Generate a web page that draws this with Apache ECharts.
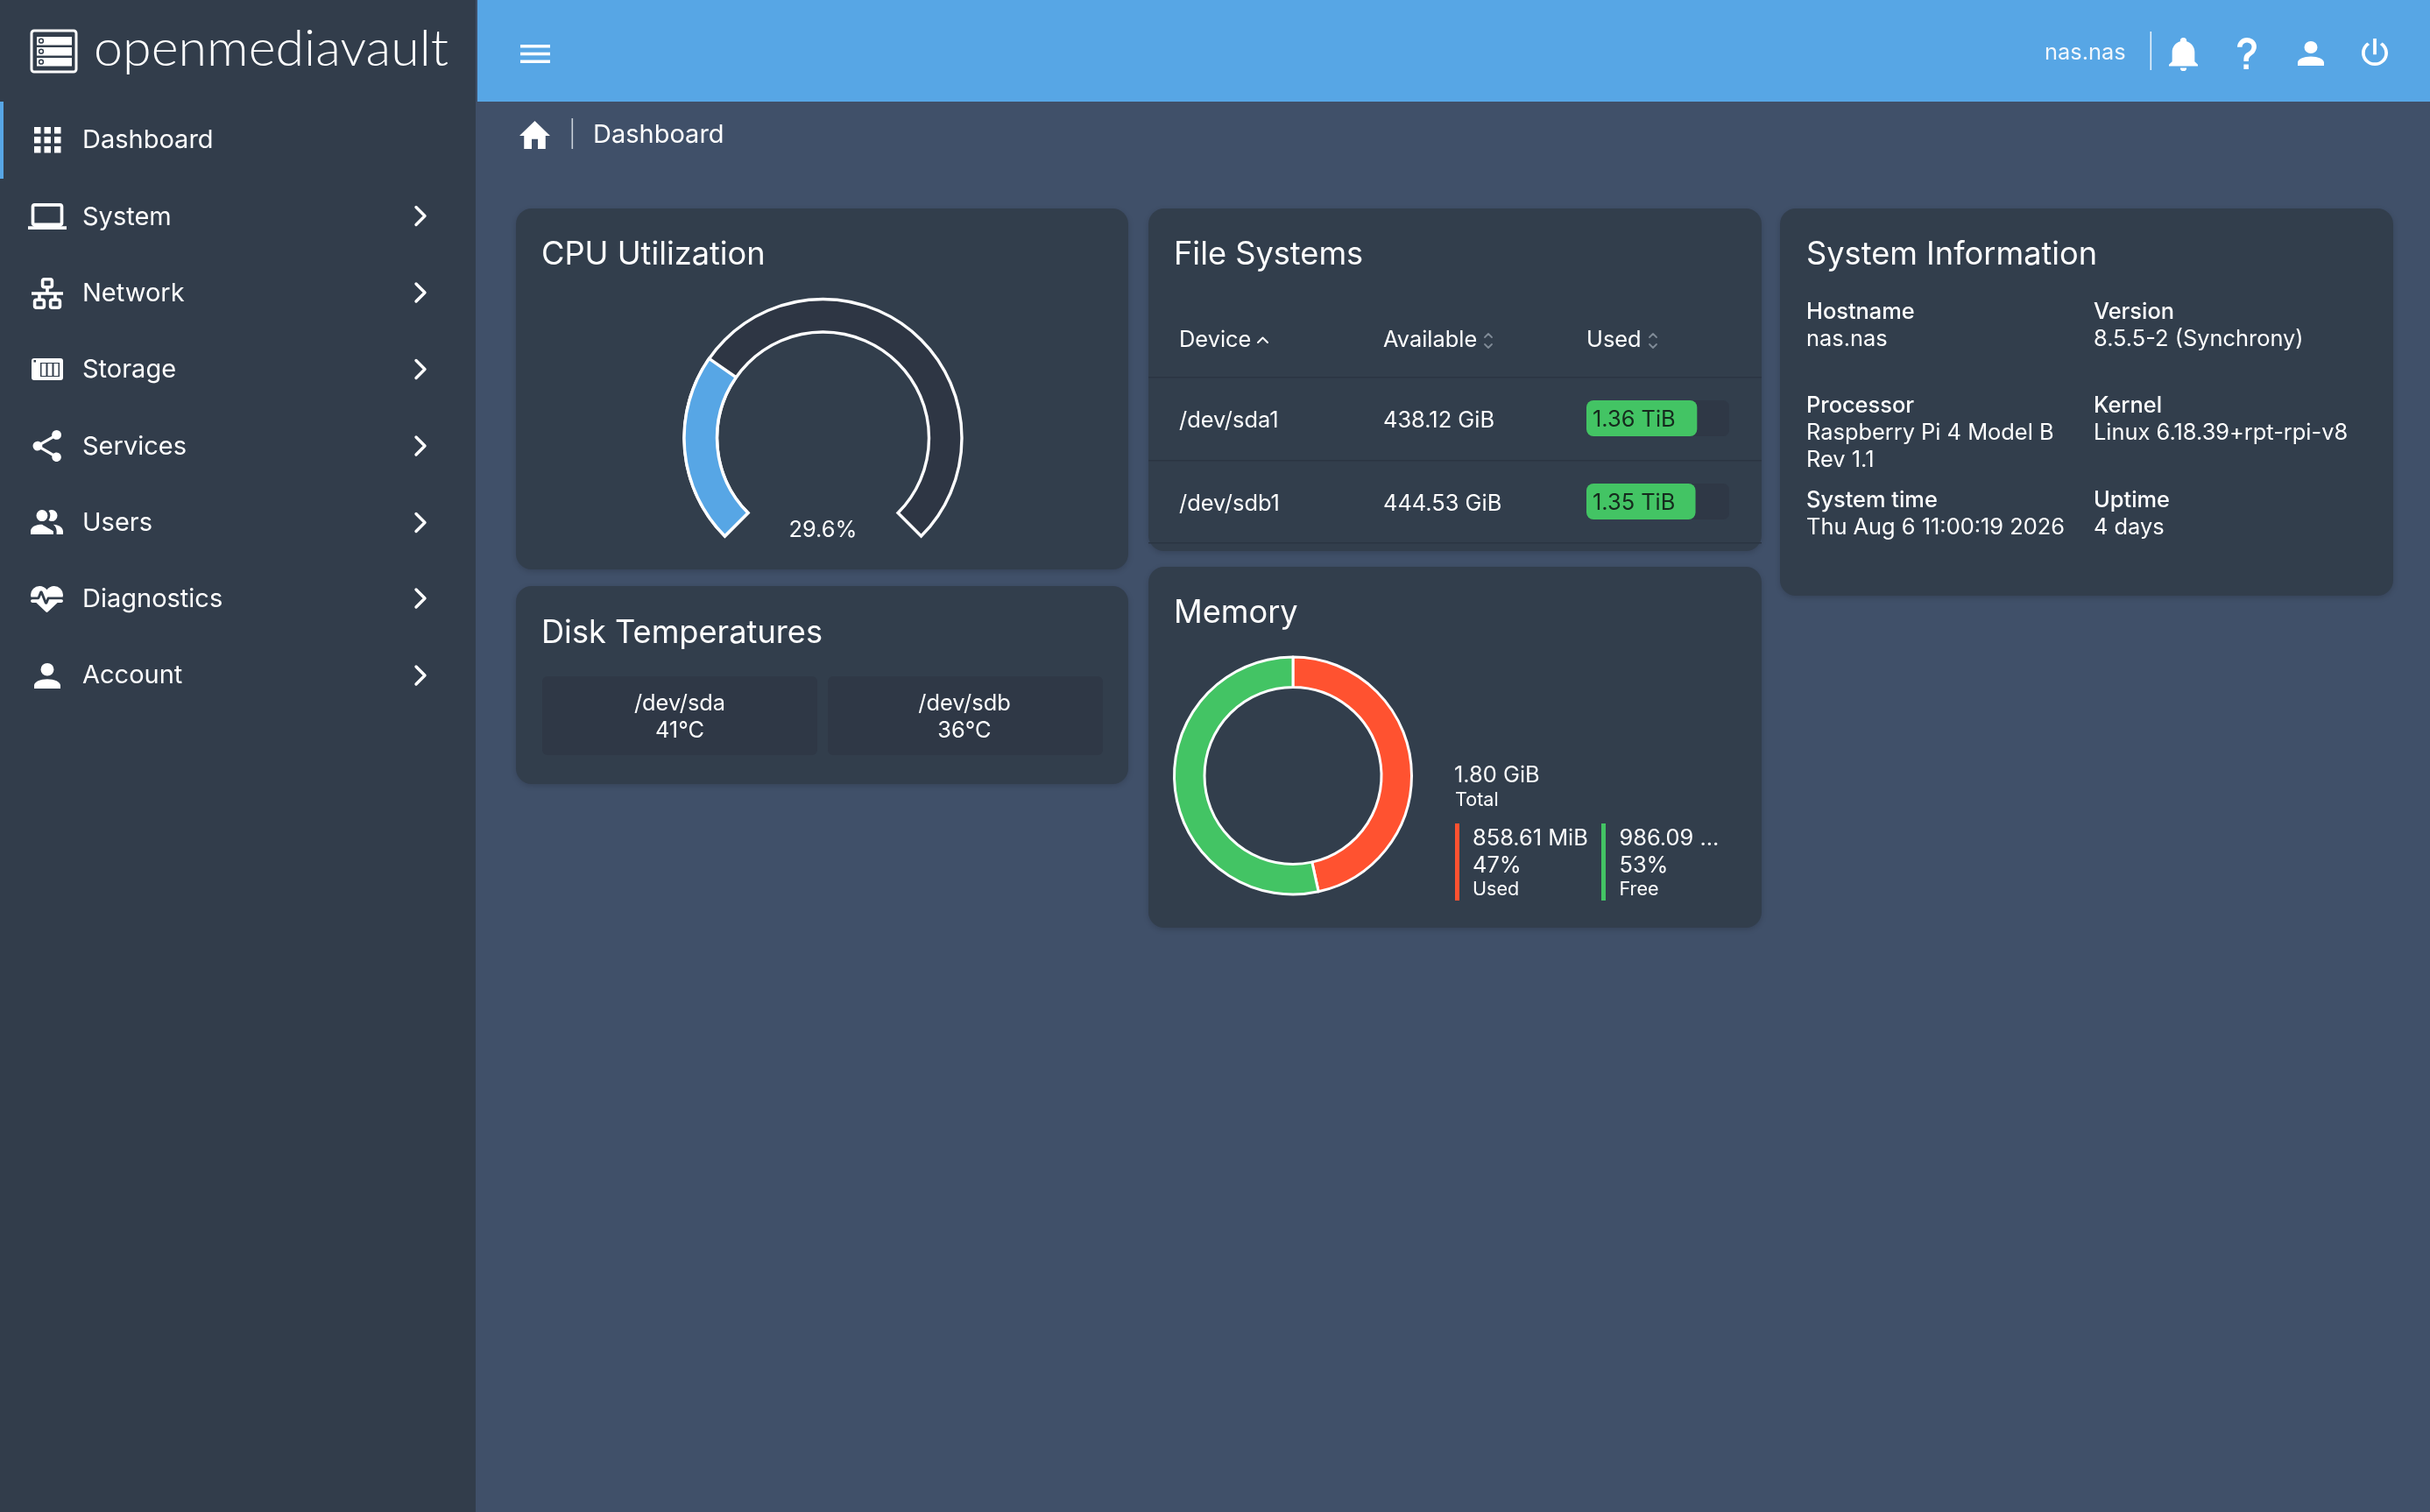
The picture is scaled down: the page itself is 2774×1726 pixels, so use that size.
<!DOCTYPE html>
<html><head><meta charset="utf-8">
<style>html,body{margin:0;padding:0;background:#405069;overflow:hidden}#c{width:2774px;height:1726px}</style>
<script src="https://cdn.jsdelivr.net/npm/echarts@6/dist/echarts.min.js"></script>
</head><body><div id="c"></div>
<script>
// ---- data ----
const navItems = ['Dashboard','System','Network','Storage','Services','Users','Diagnostics','Account'];
const cpuUtilization = 29.6;
const cpuMax = 100;
const fsDevices = ['/dev/sda1','/dev/sdb1'];
const fsAvailable = ['438.12 GiB','444.53 GiB'];
const fsUsedLabels = ['1.36 TiB','1.35 TiB'];
const fsUsedPercent = [77.5,76.4];
const fsHeaders = ['Device','Available','Used'];
const diskNames = ['/dev/sda','/dev/sdb'];
const diskTemps = ['41°C','36°C'];
const memoryNames = ['Used','Free'];
const memoryValues = [858.61,986.09];
const memoryValueLabels = ['858.61 MiB','986.09 ...'];
const memoryPercentLabels = ['47%','53%'];
const memoryTotal = '1.80 GiB';
const sysLabels = ['Hostname','Version','Processor','Kernel','System time','Uptime'];
const sysValues = ['nas.nas','8.5.5-2 (Synchrony)','Raspberry Pi 4 Model B\nRev 1.1','Linux 6.18.39+rpt-rpi-v8','Thu Aug 6 11:00:19 2026','4 days'];
const cardTitles = ['CPU Utilization','Disk Temperatures','File Systems','Memory','System Information'];

// ---- palette ----
const C = {bg:'#405069',side:'#323d4b',card:'#323e4c',well:'#2e3644',blue:'#57a6e5',line:'#2b3542',
  red:'#ff5230',green:'#43c464',white:'#ffffff',grey:'#808b97'};
const FONT='Inter';
const S=25.4;

function T(x,y,text,size,o){o=o||{};
  const al=o.align||'left';
  return {type:'text',x:al==='left'?x-1:x,y:y+2,z:o.z||5,silent:true,scaleX:o.scaleX||1,style:{text:text,fill:o.fill||C.white,
    font:(o.weight||400)+' '+size+'px '+(o.family||FONT),
    textAlign:al,textVerticalAlign:'middle',align:al,verticalAlign:'middle'}};
}
function R(x,y,w,h,fill,r,extra){
  return Object.assign({type:'rect',z:1,silent:true,shape:{x:x,y:y,width:w,height:h,r:r||0},style:{fill:fill}},extra||{});
}
function L(pts,stroke,w){return {type:'polyline',z:4,silent:true,shape:{points:pts},style:{stroke:stroke,lineWidth:w,fill:null,lineCap:'round',lineJoin:'round'}};}
function Card(x,y,w,h){const c=R(x,y,w,h,C.card,18);c.style.shadowBlur=6;c.style.shadowColor='rgba(0,0,0,0.16)';c.style.shadowOffsetY=2;return c;}

const el=[];
// frame
el.push(R(0,0,543,1726,C.side));
el.push(R(545,0,2229,116,C.blue));
el.push(R(0,116,4,88,C.blue,0,{z:2}));
// logo
el.push({type:'rect',z:3,silent:true,shape:{x:36,y:35,width:51,height:47,r:3},style:{fill:null,stroke:C.white,lineWidth:3}});
[42,54,66].forEach(function(y){
  el.push(R(42,y,40,9.5,C.white,0,{z:3}));
  el.push({type:'circle',z:4,silent:true,shape:{cx:47,cy:y+4.7,r:2.4},style:{fill:C.white,stroke:C.side,lineWidth:1.5}});
});
el.push(T(108,54,'openmediavault',58,{family:'Lato',weight:300,scaleX:1.02}));
// nav
const navY=[158,246.5,333.5,420.5,508.5,595.5,682,769.5];
const chevY=[159,246.5,334,421.5,509,596.5,683,771];
navItems.forEach(function(n,i){
  el.push(T(95,navY[i],n,29));
  if(i>0) el.push(L([[475,chevY[i]-10],[485,chevY[i]],[475,chevY[i]+10]],C.white,3.4));
});
// storage icon
el.push(R(36,409,36,25,C.white,3,{z:3}));
el.push(R(46,414,22,16,C.side,0,{z:4}));
[47.5,54.5,61.5].forEach(function(x){el.push(R(x,415,5,14,C.white,0,{z:5}));});
el.push(R(38.5,411,2.5,2.5,C.side,0,{z:5}));
// dashboard icon squares
[145,156,167].forEach(function(y){[39,50.5,62].forEach(function(x){el.push(R(x,y,7.5,7.5,C.white,0,{z:3}));});});
// header
el.push(T(2335,58,'nas.nas',S,{fill:'#f2f7fc'}));
el.push(R(2454.5,36,1.6,44,'#e8f2fb',0,{z:2}));
// breadcrumb
el.push(R(652.5,135,1.6,35,'#c9d0d9',0,{z:2}));
el.push(T(678,152,navItems[0],29));
// cards
const cards=[[589,238,699,412],[589,669,699,226],[1311,238,700,391],[1311,647,700,412],[2032,238,700,442]];
cards.forEach(function(c){el.push(Card(c[0],c[1],c[2],c[3]));});
const titlePos=[[619,289],[619,721.5],[1341,289],[1341,698],[2063,289]];
cardTitles.forEach(function(t,i){el.push(T(titlePos[i][0],titlePos[i][1],t,36.2));});
// disk tiles
const tileX=[[619,314],[945,314]];
diskNames.forEach(function(d,i){
  el.push(R(tileX[i][0],772,tileX[i][1],90,'#2f3846',6,{z:2}));
  const cx=i?1101:776;
  el.push(T(cx,801.5,d,S,{align:'center'}));
  el.push(T(cx,832.5,diskTemps[i],S,{align:'center'}));
});
// file systems table
const colX=[1347,1580,1812];
fsHeaders.forEach(function(h,i){el.push(T(colX[i],386.5,h,S));});
[430,525,619].forEach(function(y){el.push(R(1311,y,700,1.6,C.line,0,{z:2}));});
el.push(L([[1436,391],[1441.5,385.5],[1447,391]],C.white,2));
[1699,1887].forEach(function(x){
  el.push(L([[x-4,385],[x,381],[x+4,385]],C.grey,1.8));
  el.push(L([[x-4,393],[x,397],[x+4,393]],C.grey,1.8));
});
const rowY=[478,573];
fsDevices.forEach(function(d,i){
  el.push(T(colX[0],rowY[i],d,S));
  el.push(T(colX[1],rowY[i],fsAvailable[i],S));
});
// memory legend
el.push(T(1661,883.5,memoryTotal,S));
el.push(T(1662,911.5,'Total',21.6));
const legX=[[1661,1682],[1828,1849.5]];
memoryNames.forEach(function(n,i){
  el.push(R(legX[i][0],940,5,88,i?C.green:C.red,0,{z:2}));
  el.push(T(legX[i][1],955,memoryValueLabels[i],S));
  el.push(T(legX[i][1],986,memoryPercentLabels[i],S));
  el.push(T(legX[i][1],1013.5,n,21.6));
});
// system info
const sysPos=[[2063,354.5,385.5],[2391,354.5,385.5],[2063,461.5,492.5],[2391,461.5,492.5],[2063,569.5,600.5],[2391,569.5,600.5]];
sysLabels.forEach(function(l,i){
  const p=sysPos[i];
  el.push(T(p[0],p[1],l,S,{weight:500}));
  sysValues[i].split('\n').forEach(function(v,k){el.push(T(p[0],p[2]+k*31,v,S));});
});

// ---- svg icons (path, x, y, w, h of the visible shape) ----
const ICONS=[
 ['M4,6H20V16H4M20,18A2,2 0 0,0 22,16V6C22,4.89 21.1,4 20,4H4C2.89,4 2,4.89 2,6V16A2,2 0 0,0 4,18H0V20H24V18H20Z',32,232,44,30],
 ['M10,2C8.89,2 8,2.89 8,4V7C8,8.11 8.89,9 10,9H11V11H2V13H6V15H5C3.89,15 3,15.89 3,17V20C3,21.11 3.89,22 5,22H9C10.11,22 11,21.11 11,20V17C11,15.89 10.11,15 9,15H8V13H16V15H15C13.89,15 13,15.89 13,17V20C13,21.11 13.89,22 15,22H19C20.11,22 21,21.11 21,20V17C21,15.89 20.11,15 19,15H18V13H22V11H13V9H14C15.11,9 16,8.11 16,7V4C16,2.89 15.11,2 14,2H10M10,4H14V7H10V4M5,17H9V20H5V17M15,17H19V20H15V17Z',36,317,36,36],
 ['M18,16.08C17.24,16.08 16.56,16.38 16.04,16.85L8.91,12.7C8.96,12.47 9,12.24 9,12C9,11.76 8.96,11.53 8.91,11.3L15.96,7.19C16.5,7.69 17.21,8 18,8A3,3 0 0,0 21,5A3,3 0 0,0 18,2A3,3 0 0,0 15,5C15,5.24 15.04,5.47 15.09,5.7L8.04,9.81C7.5,9.31 6.79,9 6,9A3,3 0 0,0 3,12A3,3 0 0,0 6,15C6.79,15 7.5,14.69 8.04,14.19L15.16,18.34C15.11,18.55 15.08,18.77 15.08,19C15.08,20.61 16.39,21.91 18,21.91C19.61,21.91 20.92,20.61 20.92,19A2.92,2.92 0 0,0 18,16.08Z',37.5,491,32.5,36],
 ['M16 17V19H2V17S2 13 9 13 16 17 16 17M12.5 7.5A3.5 3.5 0 1 0 9 11A3.5 3.5 0 0 0 12.5 7.5M15.94 13A5.32 5.32 0 0 1 18 17V19H22V17S22 13.37 15.94 13M15 4A3.39 3.39 0 0 0 13.07 4.59A5 5 0 0 1 13.07 10.41A3.39 3.39 0 0 0 15 11A3.5 3.5 0 0 0 15 4Z',35,582,37,28],
 ['M7.5,4A5.5,5.5 0 0,0 2,9.5C2,10 2.09,10.5 2.22,11H6.3L7.57,7.63C7.87,6.83 9.05,6.75 9.4,7.63L11.5,13L12.09,11.58C12.22,11.25 12.57,11 13,11H21.78C21.91,10.5 22,10 22,9.5A5.5,5.5 0 0,0 16.5,4C14.64,4 13,4.93 12,6.34C11,4.93 9.36,4 7.5,4V4M3,12.5A1,1 0 0,0 2,13.5A1,1 0 0,0 3,14.5H5.44L11,20C12,20.9 12,20.9 13,20L18.56,14.5H21A1,1 0 0,0 22,13.5A1,1 0 0,0 21,12.5H13.4L12.47,14.8C12.07,15.81 10.92,15.67 10.55,14.83L8.5,9.5L7.54,11.83C7.39,12.21 7.05,12.5 6.6,12.5H3Z',35,669,37,30],
 ['M12,4A4,4 0 0,1 16,8A4,4 0 0,1 12,12A4,4 0 0,1 8,8A4,4 0 0,1 12,4M12,14C16.42,14 20,15.79 20,18V20H4V18C4,15.79 7.58,14 12,14Z',39,757,30,29],
 ['M3,6H21V8H3V6M3,11H21V13H3V11M3,16H21V18H3V16Z',594,51,34,21],
 ['M21,19V20H3V19L5,17V11C5,7.9 7.03,5.17 10,4.29C10,4.19 10,4.1 10,4A2,2 0 0,1 12,2A2,2 0 0,1 14,4C14,4.1 14,4.19 14,4.29C16.97,5.17 19,7.9 19,11V17L21,19M14,21A2,2 0 0,1 12,23A2,2 0 0,1 10,21',2476,43,33,38],
 ['M10,19H13V22H10V19M12,2C17.35,2.22 19.68,7.62 16.5,11.67C15.67,12.67 14.33,13.33 13.67,14.17C13,15 13,16 13,17H10C10,15.33 10,13.92 10.67,12.92C11.33,11.92 12.67,11.33 13.5,10.67C15.92,8.43 15.32,5.26 12,5A3,3 0 0,0 9,8H6A6,6 0 0,1 12,2Z',2554,43,22,36],
 ['M12,4A4,4 0 0,1 16,8A4,4 0 0,1 12,12A4,4 0 0,1 8,8A4,4 0 0,1 12,4M12,14C16.42,14 20,15.79 20,18V20H4V18C4,15.79 7.58,14 12,14Z',2623,47,30,28],
 ['M16.56,5.44L15.11,6.89C16.84,7.94 18,9.83 18,12A6,6 0 0,1 12,18A6,6 0 0,1 6,12C6,9.83 7.16,7.94 8.88,6.88L7.44,5.44C5.36,6.88 4,9.28 4,12A8,8 0 0,0 12,20A8,8 0 0,0 20,12C20,9.28 18.64,6.88 16.56,5.44M13,3H11V13H13',2696,44,30,31],
 ['M10,20V14H14V20H19V12H22L12,3L2,12H5V20H10Z',593,138,35,32]
];

const chart=echarts.init(document.getElementById('c'));
chart.setOption({
  animation:false,
  backgroundColor:C.bg,
  textStyle:{fontFamily:FONT},
  graphic:{elements:el},
  grid:{left:1811,top:430,width:163,height:190,containLabel:false},
  xAxis:{type:'value',min:0,max:100,show:false},
  yAxis:{type:'category',inverse:true,data:fsDevices,show:false},
  series:[
    {type:'gauge',name:'CPU Utilization',center:[939.5,500],radius:158.5,startAngle:225,endAngle:-45,min:0,max:cpuMax,silent:true,
     axisLine:{show:false},axisTick:{show:false},splitLine:{show:false},axisLabel:{show:false},pointer:{show:false},anchor:{show:false},title:{show:false},
     progress:{show:true,overlap:true,roundCap:false,width:37.5,itemStyle:{borderColor:C.white,borderWidth:3.4}},
     detail:{show:true,valueAnimation:false,offsetCenter:[0,105],formatter:'{value}%',color:C.white,fontFamily:FONT,fontSize:S,fontWeight:400},
     data:[
       {value:cpuMax,itemStyle:{color:C.well},detail:{show:false},title:{show:false}},
       {value:cpuUtilization,itemStyle:{color:C.blue}}
     ]},
    {type:'pie',name:'Memory',center:[1476,885.5],radius:[101,135.5],startAngle:90,clockwise:true,silent:true,
     label:{show:false},labelLine:{show:false},
     itemStyle:{borderColor:C.white,borderWidth:3},
     data:memoryNames.map(function(n,i){return {name:n,value:memoryValues[i],itemStyle:{color:i?C.green:C.red}};})},
    {type:'bar',name:'Used',barWidth:41,silent:true,
     showBackground:true,backgroundStyle:{color:'#2f3846',borderRadius:7},
     itemStyle:{color:C.green,borderRadius:8},
     label:{show:true,position:'insideLeft',distance:7,offset:[0,1.5],color:'#152a1d',fontFamily:FONT,fontSize:S,
        formatter:function(p){return fsUsedLabels[p.dataIndex];}},
     data:fsUsedPercent},
    {type:'custom',coordinateSystem:'none',silent:true,z:6,
     data:ICONS.map(function(_,i){return [i];}),
     renderItem:function(params){
       const ic=ICONS[params.dataIndex];
       return {type:'path',shape:{pathData:ic[0],x:ic[1],y:ic[2],width:ic[3],height:ic[4],layout:'cover'},style:{fill:C.white}};
     }}
  ]
});
</script></body></html>
